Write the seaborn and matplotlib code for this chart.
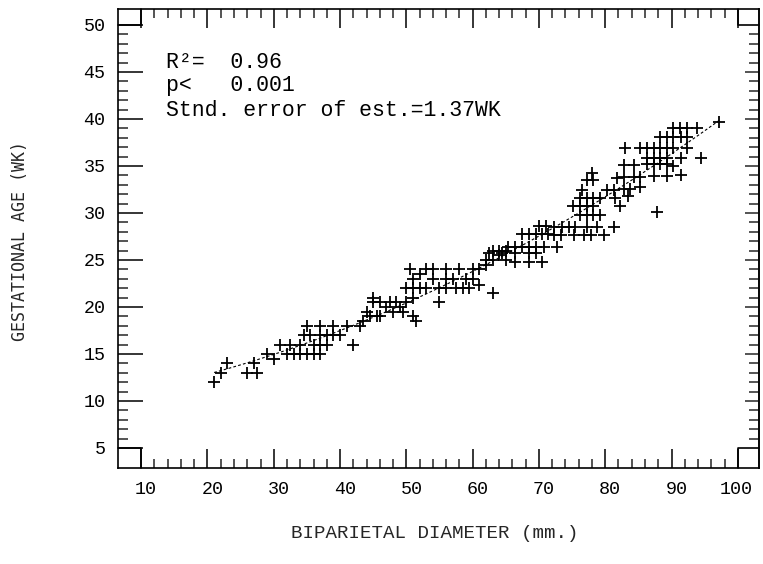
import matplotlib
matplotlib.use("Agg")
import matplotlib.pyplot as plt
import matplotlib.transforms as mtrans
import seaborn as sns
import numpy as np
import pandas as pd
from matplotlib.ticker import FixedLocator

sns.set_theme(style="white")
plt.rcParams['font.family'] = ['Liberation Mono', 'DejaVu Sans Mono', 'DejaVu Sans']

# ---- data ----
bpd_mm = [
    # 20-42 mm
    21, 22, 23, 26, 27, 27.5, 29, 30, 31, 32, 32.5, 33, 34, 34, 34.5, 35, 35, 35.5, 36, 36,
    37, 37, 37, 37, 38, 38, 39, 39, 40, 41, 42,
    # 42-52 mm
    43, 43.5, 44, 44.5, 45, 45, 45.5, 46, 46, 47, 47.5, 48, 48.5, 49, 49.5, 50, 50, 50.5,
    51, 51, 51, 51, 51.5, 52, 52,
    # 52-66 mm
    53, 54, 53, 54, 55, 55, 56, 56, 56, 57, 57.5, 58, 58.5, 59, 59.5, 60, 60, 61, 61, 62,
    62, 63, 63, 63, 64, 64, 65, 65,
    # 62-76 mm
    70, 71, 67.5, 68.5, 69.5, 70.5, 71.3, 65.4, 66.4, 67.5, 68.5, 69.5, 70.8, 72.8,
    62.4, 64.4, 66.4, 68.5, 69.5, 66.4, 68.5, 70.5, 72.3, 73.5, 74.5, 75.5, 72.3, 73.3, 75.3,
    # 75-98 mm
    76.8, 77.8, 79.8, 77.3, 78.8, 81.3, 76.2, 77.2, 78.2, 79.2,
    75.2, 76.2, 77.2, 78.2, 82.3, 76.2, 77.2, 78.2, 79.2, 81.5, 83.5,
    76.5, 80.3, 81.3, 82.8, 83.8, 85.3,
    77.2, 78.2, 81.8, 82.8, 84.3, 85.3, 87.3, 89.3, 91.4, 78.0,
    82.8, 84.3, 86.3, 87.3, 88.3, 89.3, 90.3,
    86.3, 87.3, 88.3, 89.3, 91.5, 94.4,
    83.0, 85.3, 86.3, 87.3, 88.3, 89.3, 90.3, 92.4,
    88.3, 89.3, 90.3, 91.4, 92.4,
    90.3, 91.3, 92.3, 93.8,
    87.8, 97.2,
]
ga_wk = [
    12.0, 13, 14, 13, 14, 13, 15, 14.5, 16, 15, 16, 15, 15, 16, 17, 18, 15, 17, 16, 15,
    18, 17, 16, 15, 17, 16, 18, 17, 17, 18, 16,
    18, 18.5, 19.5, 19, 20.5, 21, 19, 20.5, 19, 20, 20.5, 19.5, 20.5, 20, 19.5, 20.5, 22, 24,
    23, 22, 21, 19, 18.5, 22, 23.5,
    24, 24, 22, 23, 22, 20.5, 24, 22, 23, 23, 22, 24, 22, 23, 22, 24, 23, 24, 22.3, 25,
    24.5, 26, 21.5, 25, 25.5, 26, 26, 25,
    28.6, 28.6, 27.8, 27.8, 27.8, 27.8, 27.8, 26.4, 26.4, 26.4, 26.4, 26.4, 26.4, 26.4,
    25.7, 25.7, 25.7, 25.7, 25.7, 24.8, 24.8, 24.8, 28.5, 28.5, 28.5, 28.5, 27.7, 27.7, 27.7,
    27.7, 27.7, 27.7, 28.5, 28.5, 28.5, 29.8, 29.8, 29.8, 29.8,
    30.7, 30.7, 30.7, 30.7, 30.7, 31.6, 31.6, 31.6, 31.6, 31.6, 31.8,
    32.4, 32.4, 32.4, 32.6, 32.6, 32.8,
    33.5, 33.5, 33.7, 33.8, 33.8, 33.8, 33.9, 33.9, 34.0, 34.3,
    35.1, 35.1, 35.2, 35.2, 35.2, 35.2, 35.0,
    35.9, 35.9, 35.9, 35.9, 35.9, 35.9,
    36.9, 36.9, 36.9, 36.9, 36.9, 36.9, 36.9, 36.9,
    38.1, 38.1, 38.1, 38.1, 38.1,
    39.0, 39.0, 39.0, 39.0,
    30.1, 39.7,
]
x_ticks = [10, 20, 30, 40, 50, 60, 70, 80, 90, 100]
y_ticks = [5, 10, 15, 20, 25, 30, 35, 40, 45, 50]
stats_lines = ["R\u00b2=  0.96", "p<   0.001", "Stnd. error of est.=1.37WK"]
x_label = "BIPARIETAL DIAMETER (mm.)"
y_label = "GESTATIONAL AGE (WK)"

df = pd.DataFrame({"bpd": bpd_mm, "ga": ga_wk})

W, H = 763, 564
L, R, T, B = 118, 759, 9, 468
fig = plt.figure(figsize=(W / 100, H / 100), dpi=100)
ax = fig.add_axes([L / W, 1 - B / H, (R - L) / W, (B - T) / H])

# curvilinear (second-order) regression, as in the original
sns.regplot(data=df, x="bpd", y="ga", ax=ax, ci=None, color="black", order=2,
            marker="+", scatter_kws={"s": 85, "linewidths": 1.3, "alpha": 1},
            line_kws={"linestyle": (0, (2.5, 2)), "linewidth": 0.8})

x0, x1 = 6.5, 103.2
y0, y1 = 2.87, 51.7
ax.set_xlim(x0, x1)
ax.set_ylim(y0, y1)

# corner squares of the frame
xa, xb = x_ticks[0], x_ticks[-1]
ya, yb = y_ticks[0], y_ticks[-1]
kw = dict(color="black", linewidth=1.2, clip_on=False)
ax.plot([x0, xa, xa], [ya, ya, y0], **kw)
ax.plot([x1, xb, xb], [ya, ya, y0], **kw)
ax.plot([x0, xa, xa], [yb, yb, y1], **kw)
ax.plot([x1, xb, xb], [yb, yb, y1], **kw)

for s in ax.spines.values():
    s.set_color("black")
    s.set_linewidth(1.2)

xminor = [v for v in range(12, 100, 2) if v % 10]
yminor = [v for v in range(6, 50) if v % 5]
ax.xaxis.set_major_locator(FixedLocator(x_ticks))
ax.yaxis.set_major_locator(FixedLocator(y_ticks))
ax.xaxis.set_minor_locator(FixedLocator(xminor))
ax.yaxis.set_minor_locator(FixedLocator(yminor))
ax.set_xticklabels([str(v) for v in x_ticks])
ax.set_yticklabels([str(v) for v in y_ticks])

ax.tick_params(axis="x", which="major", direction="in", length=13.5, width=1.1,
               top=True, bottom=True, labelsize=13.2, pad=9, colors="black")
ax.tick_params(axis="x", which="minor", direction="in", length=6.5, width=1.1,
               top=True, bottom=True)
ax.tick_params(axis="y", which="major", direction="in", length=18, width=1.1,
               left=True, right=False, labelsize=13.2, pad=9, colors="black")
ax.tick_params(axis="y", which="minor", direction="in", length=7.5, width=1.1,
               left=True, right=False)

# plotter put the two-digit labels a little right of their ticks
for lab in ax.get_xticklabels():
    dx = 5 if len(lab.get_text()) == 2 else -2
    lab.set_transform(lab.get_transform() +
                      mtrans.ScaledTranslation(dx / 100, 0, fig.dpi_scale_trans))

# right-hand ticks are shorter
sec = ax.secondary_yaxis("right")
sec.yaxis.set_major_locator(FixedLocator(y_ticks[1:-1]))
sec.yaxis.set_minor_locator(FixedLocator(yminor))
sec.tick_params(which="major", direction="in", length=10, width=1.1, labelright=False)
sec.tick_params(which="minor", direction="in", length=7, width=1.1)
sec.spines["right"].set_linewidth(1.2)

ax.set_xlabel(x_label, fontsize=13.8)
ax.set_ylabel(y_label, fontsize=12, family="DejaVu Sans Mono")
ax.xaxis.set_label_coords((434.5 - L) / (R - L), (B - 525) / (B - T))
ax.yaxis.set_label_coords((29 - L) / (R - L), (B - 241) / (B - T))

for i, line in enumerate(stats_lines):
    ax.text((166 - L) / (R - L), (B - 62 - 24 * i) / (B - T), line,
            transform=ax.transAxes, fontsize=15.5, va="center", ha="left",
            color="black")

ax.grid(False)
fig.savefig("out.png", dpi=100, facecolor="white")
